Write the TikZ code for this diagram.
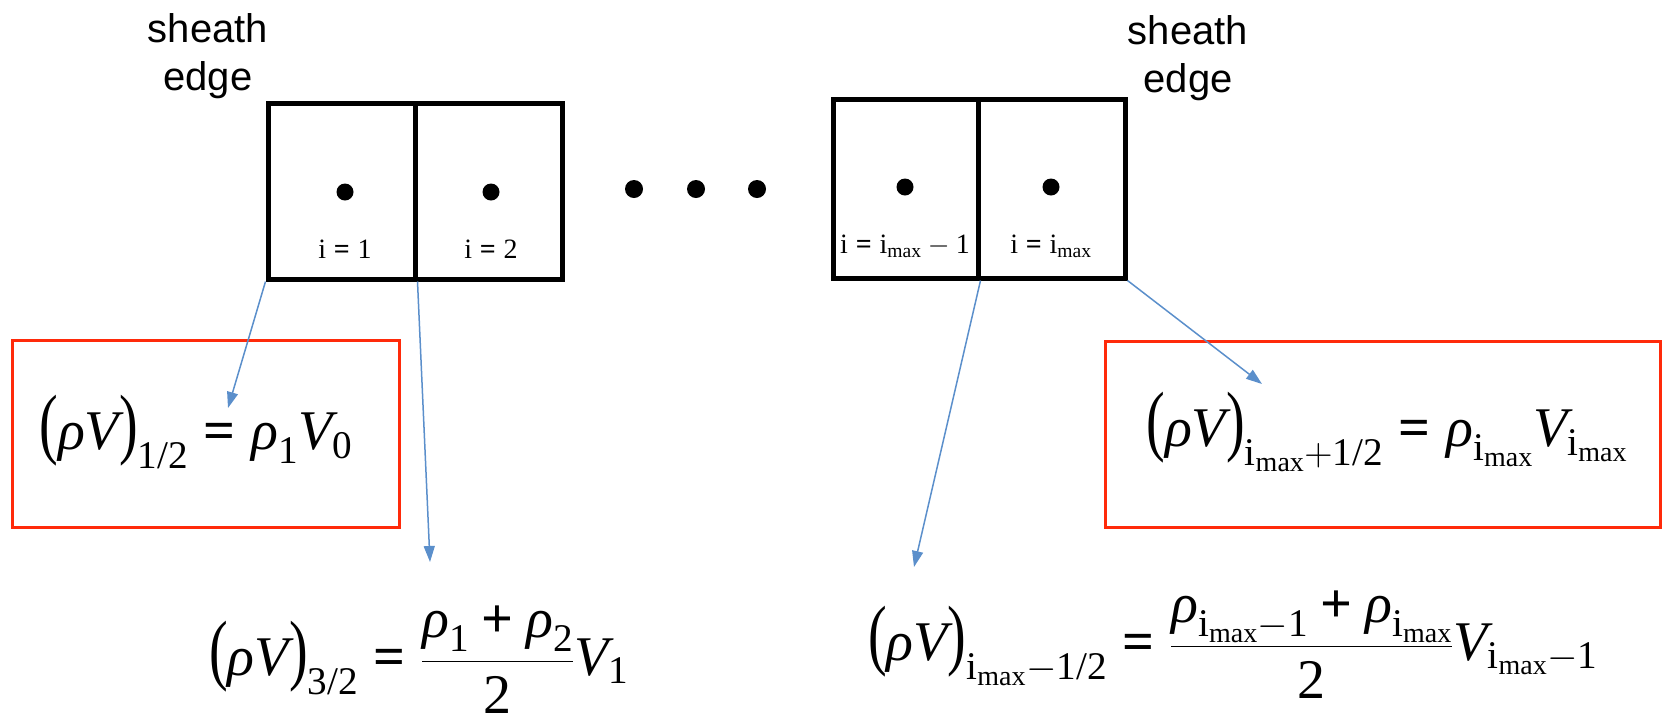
\documentclass[tikz,border=0pt]{standalone}
\usepackage{fix-cm}
\usepackage{amsmath}
\usepackage{graphicx}
\usepackage{fontspec}
\setmainfont{Liberation Sans}
\newfontfamily\tms{Liberation Serif}
\usetikzlibrary{arrows.meta}
\definecolor{arrblue}{HTML}{5B8FCB}
\definecolor{boxred}{HTML}{FF2A0A}
\newcommand\mrho{\text{\tms\itshape ρ}}
\newcommand\mV{\text{\tms\itshape V}}
\newcommand\tn[1]{\text{\tms #1}}
\newcommand\imax{\tn{i}_{\tn{max}}}
\newcommand\lp{\mathopen{\tn{\scalebox{1}[1.4]{(}}}}
\newcommand\rp{\mathclose{\tn{\scalebox{1}[1.4]{)}}}}
\newcommand\eqsign{\mathrel{\text{\tms\bfseries =}}}
\newcommand\plussign{\mathbin{\text{\tms\bfseries +}}}
\tikzset{
  cell/.style={draw=black, line width=5pt, inner sep=0pt, minimum width=147pt, minimum height=176pt},
  dot/.style={circle, fill=black, inner sep=0pt, minimum size=17pt},
  lbl/.style={inner sep=0pt, font=\fontsize{28}{32}\selectfont},
  eq/.style={inner sep=0pt, font=\fontsize{56}{66}\selectfont},
  redbox/.style={draw=boxred, line width=3pt, inner sep=0pt},
  arr/.style={draw=arrblue, line width=1.5pt, -{Triangle[length=16pt,width=11pt]}},
  sheath/.style={align=center, inner sep=0pt, font=\fontsize{40}{48}\selectfont}
}
\begin{document}
\begin{tikzpicture}[x=1pt,y=-1pt]
\useasboundingbox (0,0) rectangle (1663,724);
% sheath edge labels
\node[sheath] (s1) at (208,56) {sheath\\edge};
\node[sheath] (s2) at (1188,58) {sheath\\edge};
% cells
\node[cell] (c1) at (341.5,191) {};
\node[cell] (c2) at (488.5,191) {};
\node[cell, minimum width=145pt, minimum height=179pt] (c3) at (905.5,188.5) {};
\node[cell, minimum width=147pt, minimum height=179pt] (c4) at (1051.5,188.5) {};
% dots
\node[dot] (d1) at (345,192) {};
\node[dot] (d2) at (491,192) {};
\node[dot] (d3) at (905,187) {};
\node[dot] (d4) at (1051,187) {};
\node[dot, minimum size=18pt] (e1) at (634,189) {};
\node[dot, minimum size=18pt] (e2) at (696,189) {};
\node[dot, minimum size=18pt] (e3) at (757,189) {};
% cell labels
\node[lbl] (l1) at (345,249) {$\tn{i}\eqsign\tn{1}$};
\node[lbl] (l2) at (491,249) {$\tn{i}\eqsign\tn{2}$};
\node[lbl] (l3) at (905,246) {$\tn{i}\eqsign\imax-\tn{1}$};
\node[lbl] (l4) at (1051,246) {$\tn{i}\eqsign\imax$};
% red boxes
\node[redbox, minimum width=387pt, minimum height=187pt] (r1) at (205.5,433.5) {};
\node[redbox, minimum width=555pt, minimum height=186pt] (r2) at (1382.5,434) {};
% equations
\node[eq] (q1) at (196,432) {$\lp\mrho\mV\rp_{\tn{1/2}} \eqsign \mrho_{\tn{1}}\mV_{\tn{0}}$};
\node[eq] (q2) at (419,660) {$\displaystyle\lp\mrho\mV\rp_{\tn{3/2}} \eqsign \frac{\mrho_{\tn{1}}\plussign\mrho_{\tn{2}}}{\tn{2}}\mV_{\tn{1}}$};
\node[eq] (q3) at (1387,432) {$\lp\mrho\mV\rp_{\imax+\tn{1/2}} \eqsign \mrho_{\imax}\mV_{\imax}$};
\node[eq] (q4) at (1233,645) {$\displaystyle\lp\mrho\mV\rp_{\imax-\tn{1/2}} \eqsign \frac{\mrho_{\imax-\tn{1}}\plussign\mrho_{\imax}}{\tn{2}}\mV_{\imax-\tn{1}}$};
% arrow ends
\coordinate (a1) at (228,408);
\coordinate (a2) at (430,562);
\coordinate (a3) at (914,567);
\coordinate (a4) at (1262,384);
\draw[arr] (c1.south west) -- (a1);
\draw[arr] (c1.south east) -- (a2);
\draw[arr] (c3.south east) -- (a3);
\draw[arr] (c4.south east) -- (a4);
\end{tikzpicture}
\end{document}
